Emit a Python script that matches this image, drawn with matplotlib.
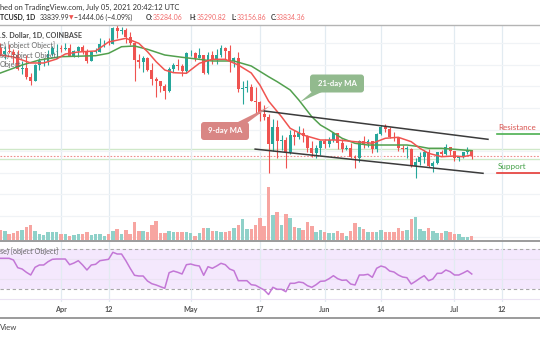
#!/usr/bin/env python

import matplotlib
matplotlib.use('Agg')
import matplotlib.pyplot as plt
import numpy as np
import pandas as pd
from matplotlib.lines import Line2D
from matplotlib.patches import FancyBboxPatch, Polygon
from matplotlib.transforms import IdentityTransform

plt.rcParams['font.family'] = ['Lato', 'DejaVu Sans']

# BTC/USD daily candles, 2021-03-17 .. 2021-07-05
opens = [
    56900, 58900, 57600, 58300, 58100, 57400, 54100, 54300, 52300, 51300,
    55000, 55800, 55800, 57600, 58800,
    58800, 58700, 59000, 57100, 58200, 59100, 58000, 56000, 58100, 58100,
    59800, 59900, 59800, 63500, 62900, 63200, 61400, 60000, 56200, 55700,
    56500, 53800, 51700, 51200, 50100, 49000, 54000, 55000, 54800, 53500,
    57700, 57800, 56600, 57200, 53200, 57400, 56400, 57300, 58900, 58200,
    55800, 56700, 49400, 49700, 49900, 46700, 46400, 43500, 42900, 36700,
    40600, 37300, 37500, 34700, 38800, 38300, 39300, 38500, 35700, 34600,
    35700,
    37300, 36700, 37600, 39200, 36900, 35500, 35800, 33600, 33400, 37300,
    36700, 37300, 35500, 39000, 40500, 40100, 38300, 38100, 35800, 35500,
    35600, 31600, 32500, 33700, 34700, 31600, 32200, 34700, 34400, 35900,
    35000, 33500, 33800, 34700, 35284,
]
highs = [
    58900, 60000, 59400, 59900, 58600, 58400, 55800, 57200, 53200, 55100,
    56600, 56600, 58400, 59400, 59800,
    59500, 60000, 59800, 58500, 59300, 59500, 58700, 58200, 59000, 61300,
    60700, 61300, 63800, 64900, 63800, 63600, 62600, 60400, 57600, 57100,
    56800, 55500, 52100, 51200, 50500, 54400, 55500, 56400, 55200, 57900,
    58500, 57900, 58900, 57200, 57900, 58300, 58600, 59500, 59200, 59600,
    56900, 57900, 51300, 51500, 50600, 49800, 46600, 45800, 43500, 42500,
    42200, 38800, 38300, 39900, 39800, 40800, 40400, 38800, 37300, 36400,
    37500,
    37900, 38200, 39500, 39300, 37900, 36500, 36800, 34000, 37500, 38400,
    37700, 37400, 39300, 41000, 41300, 40500, 39500, 38200, 36400, 36100,
    35700, 33300, 34800, 35300, 35500, 32700, 34700, 35300, 36600, 36000,
    35000, 33900, 34900, 35900, 35290,
]
lows = [
    54100, 57000, 56300, 57800, 55500, 53700, 53000, 51700, 50400, 51300,
    53900, 54700, 54900, 57000, 56900,
    57900, 58500, 57000, 56900, 56800, 57600, 55500, 55900, 57700, 57900,
    59200, 59500, 59800, 61300, 62100, 60000, 59600, 51300, 54200, 53400,
    53600, 50400, 47500, 48800, 47000, 48800, 53300, 53900, 52400, 53100,
    57100, 56000, 56500, 53000, 52900, 55200, 55300, 56900, 56300, 53400,
    54400, 48600, 46000, 48800, 46600, 43800, 42100, 42300, 30000, 35000,
    33500, 35300, 31100, 34400, 36500, 37800, 37200, 34800, 33600, 33400,
    34200,
    35700, 36000, 37200, 35600, 34800, 35300, 33400, 31000, 32400, 35800,
    35900, 34600, 34800, 38700, 39500, 38100, 37400, 35100, 34800, 33300,
    31300, 28800, 31700, 32300, 31300, 30200, 32000, 33900, 34200, 34000,
    32700, 32700, 33300, 34400, 33156,
]
closes = [
    58900, 57600, 58300, 58100, 57400, 54100, 54300, 52300, 51300, 55000,
    55800, 55800, 57600, 58800, 58800,
    58700, 59000, 57100, 58200, 59100, 58000, 56000, 58100, 58100, 59800,
    59900, 59800, 63500, 62900, 63200, 61400, 60000, 56200, 55700, 56500,
    53800, 51700, 51200, 50100, 49000, 54000, 55000, 54800, 53500, 57700,
    57800, 56600, 57200, 53200, 57400, 56400, 57300, 58900, 58200, 55800,
    56700, 49400, 49700, 49900, 46700, 46400, 43500, 42900, 36700, 40600,
    37300, 37500, 34700, 38800, 38300, 39300, 38500, 35700, 34600, 35700,
    37300,
    36700, 37600, 39200, 36900, 35500, 35800, 33600, 33400, 37300, 36700,
    37300, 35500, 39000, 40500, 40100, 38300, 38100, 35800, 35500, 35600,
    31600, 32500, 33700, 34700, 31600, 32200, 34700, 34400, 35900, 35000,
    33500, 33800, 34700, 35284, 33834,
]
# volume, thousand BTC
volumes = [
    20, 22, 20.5, 12.5, 14.7, 20.5, 22, 28, 33, 20,
    12.5, 11, 18, 17, 18, 13, 12.5, 9.5, 11, 12.5,
    13, 18, 11, 12.5, 12.5, 9.5, 13, 20, 23.5, 13,
    22, 12.5, 39, 20, 20, 18, 33, 42, 14.7, 16,
    20, 17, 17, 17, 17, 14.7, 8.8, 16, 25.7, 25.7,
    20, 20, 18, 18, 20, 27, 33, 46, 24, 24,
    33, 47.7, 30.8, 117, 55, 61, 33, 57, 47.7, 27.9,
    25.7, 22, 38.9, 30.8, 17.6, 22, 16.9, 16.1, 16.1, 19.8,
    16.1, 9.5, 19.8, 36.7, 27.9, 23.5, 16.9, 16.9, 16.9, 22,
    18.3, 18.3, 18.3, 25.7, 19.8, 22, 45.5, 51.3, 24.2, 19.8,
    27.1, 19.8, 16.1, 14.7, 19.8, 18.3, 13.2, 13.2, 7.3, 7.3,
    9.5,
]
rsi = [
    61, 60.7, 60.7, 60.7, 59, 51.3, 50, 46.7, 44, 51.7,
    54, 54, 57.3, 59.7, 60, 60, 60, 54.3, 56, 58.3,
    54, 49, 54, 54.7, 58.3, 59, 59.7, 66.7, 65, 65,
    58.3, 50.7, 43.7, 43, 43, 38, 35.3, 34, 32.3, 30.7,
    46.3, 48, 46.7, 45, 54.3, 55, 53.7, 53, 43.7, 52.3,
    50.7, 53, 55.7, 54.3, 50, 48.3, 38.3, 38.3, 38.3, 34.3,
    33.7, 31.3, 29, 24.5, 31.7, 29.7, 29.7, 27.3, 35.7, 35.7,
    37, 36.3, 33.3, 31.7, 34.3, 37.7, 38, 40.3, 43.3, 40.3,
    38.7, 39, 35, 34, 44, 44, 44.7, 41.7, 50.7, 53,
    51.7, 48, 47, 44, 42, 41.3, 35, 37.7, 40.7, 43.3,
    38.3, 40, 45.7, 45.7, 49, 47.3, 44, 44, 46, 48.3,
    45,
]

# moving averages (days since 2021-03-16)
ma9_days = [2, 5, 9, 12, 15, 17, 20, 24, 27, 31, 34, 36, 38, 40, 42, 45, 48,
            51, 54, 57, 60, 62, 64, 67, 69, 72, 76, 80, 84, 88, 91, 94, 97,
            99, 101, 104, 107, 109, 111]
ma9 = [57290, 56830, 55440, 55440, 56360, 57520, 57990, 58220, 60300, 61160,
       60000, 58060, 55740, 53810, 53190, 53050, 55370, 56290, 56290, 54970,
       53120, 50330, 46620, 42980, 40300, 38740, 37580, 37580, 37190, 36820,
       37980, 38210, 37190, 35660, 34500, 33710, 33870, 33710, 34100]
ma21_days = [2, 7, 11, 16, 24, 27, 30, 33, 36, 40, 44, 48, 51, 56, 60, 64, 66,
             69, 71, 74, 76, 78, 81, 84, 87, 91, 96, 99, 101, 104, 107, 111]
ma21 = [53120, 54970, 56130, 56900, 57130, 57680, 59210, 59380, 58610, 57290,
        56760, 56290, 55900, 55900, 54740, 52260, 51100, 49180, 46860, 42980,
        41060, 39900, 37980, 36820, 36420, 36420, 36420, 36030, 35660, 35660,
        35430, 35100]

# descending channel drawn on the chart
upper_days = [62.5, 114.75]
upper_vals = [44375, 37744]
lower_days = [60.9, 113.6]
lower_vals = [35472, 29861]

price_lines = [35430, 33110]
last_close = 33834

tick_dates = ['2021-04-01', '2021-04-12', '2021-05-01', '2021-05-17',
              '2021-06-01', '2021-06-14', '2021-07-01', '2021-07-12']
tick_labels = ['Apr', '12', 'May', '17', 'Jun', '14', 'Jul', '12']

UP = '#26a69a'
DOWN = '#ef5350'
W, H = 540, 340


def px(x, y):
    # pixel from top-left -> display coords
    return (x, H - y)


def main():
    base = pd.Timestamp('2021-03-16')
    dates = pd.date_range('2021-03-17', periods=len(closes))
    x = np.array((dates - base).days)
    o, h, l, c = (np.array(a, dtype=float) for a in (opens, highs, lows, closes))
    up = c >= o
    ticks = [(pd.Timestamp(t) - base).days for t in tick_dates]

    fig = plt.figure(figsize=(W / 100, H / 100), dpi=100)
    fig.patch.set_facecolor('white')
    ax = fig.add_axes([0, 1 - 240 / H, 1, 215 / H])
    axv = fig.add_axes([0, 1 - 240 / H, 1, 54 / H], sharex=ax)
    axr = fig.add_axes([0, 1 - 302 / H, 1, 61 / H], sharex=ax)
    axv.patch.set_alpha(0)

    # price pane
    ax.set_xlim(1.893, 126.78)
    ax.set_ylim(14396, 64246)
    ax.set_yticks(np.arange(15000, 65000, 5000))
    ax.set_xticks(ticks)
    ax.grid(axis='y', color='#f0f3f6', lw=0.9)
    ax.grid(axis='x', color='#e2ebf1', lw=0.9)
    ax.tick_params(length=0, labelbottom=False, labelleft=False)
    for a in (ax, axv, axr):
        for s in a.spines.values():
            s.set_visible(False)

    for v in price_lines:
        ax.axhline(v, color='#cfe8c8', lw=1.0, zorder=1)
    ax.axhline(last_close, color='#f08c8c', lw=0.8, ls=(0, (1.5, 1.5)), zorder=1)

    cols = np.where(up, UP, DOWN)
    ax.vlines(x, l, h, colors=cols, lw=0.8, zorder=3)
    body = np.maximum(np.abs(c - o), 120)
    ax.bar(x, body, bottom=np.minimum(o, c), width=0.68, color=cols,
           zorder=4, linewidth=0)

    ax.plot(ma21_days, ma21, color='#52a04e', lw=1.1, zorder=5)
    ax.plot(ma9_days, ma9, color='#f05450', lw=1.1, zorder=5)
    ax.plot(upper_days, upper_vals, color='#3b3b3b', lw=1.1, zorder=6)
    ax.plot(lower_days, lower_vals, color='#3b3b3b', lw=1.1, zorder=6)

    # volume
    vcols = np.where(up, '#8fd1c9', '#f7a5a1')
    axv.bar(x, volumes, width=0.8, color=vcols, linewidth=0)
    axv.set_ylim(0, 119)
    axv.set_yticks([])
    axv.tick_params(length=0, labelbottom=False)

    # RSI pane
    axr.set_ylim(17, 78)
    axr.axhspan(30, 70, color='#f4e8fd', lw=0, zorder=0)
    axr.set_yticks([20, 40, 60])
    axr.grid(axis='y', color='#ebe3f3', lw=0.8)
    axr.grid(axis='x', color='#e2ebf1', lw=0.9)
    for v in (30, 70):
        axr.axhline(v, color='#a8a8a8', lw=0.8, ls=(0, (3, 2.5)), zorder=1)
    axr.plot(x, rsi, color='#c377d6', lw=1.1, zorder=3)
    axr.set_xticks(ticks)
    axr.set_xticklabels(tick_labels)
    axr.tick_params(axis='x', length=0, pad=3.2, labelsize=5.2,
                    labelcolor='#555555')
    for t in axr.get_xticklabels():
        t.set_fontweight('bold')
    axr.tick_params(axis='y', length=0, labelleft=False)

    tr = IdentityTransform()

    def line(x0, y0, x1, y1, color, lw):
        fig.add_artist(Line2D([x0, x1], [H - y0, H - y1], transform=tr,
                              color=color, lw=lw))

    line(0, 25, W, 25, '#b4b4b4', 1.0)
    line(0, 240.5, W, 240.5, '#8a8a8a', 1.2)
    line(0, 318, W, 318, '#8a8a8a', 1.2)

    def txt(xp, yp, s, color='#444444', size=5.3, weight='normal', **kw):
        fig.text(xp, H - yp, s, transform=tr, color=color, fontsize=size,
                 fontweight=weight, va='center', ha='left', **kw)

    # header
    txt(0, 7, 'hed on TradingView.com, July 05, 2021 20:42:12 UTC',
        color='#333333', size=5.45)
    red = '#f26b6b'
    hs = 4.95
    txt(0, 17.5, 'TCUSD, 1D', color='#222222', size=hs, weight='bold')
    txt(40, 17.5, '33839.99', color='#333333', size=hs)
    txt(68.5, 17.5, '\u25bc', color='#ef5350', size=4.2)
    txt(74.5, 17.5, '\u22121444.06 (\u22124.09%)', color='#333333', size=hs)
    for lab, xl, val, xv in (('O:', 146, '35284.06', 152.5),
                             ('H:', 190, '35290.82', 196.5),
                             ('L:', 232, '33156.86', 237),
                             ('C:', 270.5, '33834.36', 276)):
        txt(xl, 17.5, lab, color='#333333', size=hs, weight='bold')
        txt(xv, 17.5, val, color=red, size=hs)

    # pane legends
    txt(0, 35, '.S. Dollar, 1D, COINBASE', color='#4a4a4a', size=5.2,
        weight='bold')
    txt(0, 45, 'e) [object Object]', color='#666666', size=5.2)
    txt(0, 55, 'se) [object Object]', color='#666666', size=5.2)
    txt(0, 65, 'Object', color='#666666', size=5.2)
    txt(0, 251, 'se) [object Object]', color='#666666', size=5.2)
    txt(0, 328, 'View', color='#444444', size=5.6)

    # support / resistance marks
    txt(498, 128, 'Resistance', color='#d9534f', size=5.8)
    line(497, 134, W, 134, '#4caf50', 1.2)
    txt(498, 167, 'Support', color='#43a047', size=5.8)
    line(497, 172.7, W, 172.7, '#e53935', 1.2)

    # callouts
    def callout(x0, y0, w, hgt, tail, label, fc):
        fig.add_artist(Polygon([px(*p) for p in tail], closed=True,
                               transform=tr, fc=fc, ec='none'))
        fig.add_artist(FancyBboxPatch(px(x0, y0 + hgt), w, hgt,
                                      boxstyle='round,pad=0,rounding_size=3',
                                      transform=tr, fc=fc, ec='none'))
        fig.text(x0 + w / 2, H - (y0 + hgt / 2), label, transform=tr,
                 color='white', fontsize=5.6, fontweight='bold',
                 ha='center', va='center')

    callout(201, 122, 48, 18, [(236, 123), (247, 123), (270, 106)],
            '9-day MA', '#d98684')
    callout(310, 74.5, 54, 18, [(313, 91), (324, 91), (300, 102)],
            '21-day MA', '#92ba8e')

    fig.savefig('out.png', dpi=100, facecolor='white')


if __name__ == '__main__':
    main()
